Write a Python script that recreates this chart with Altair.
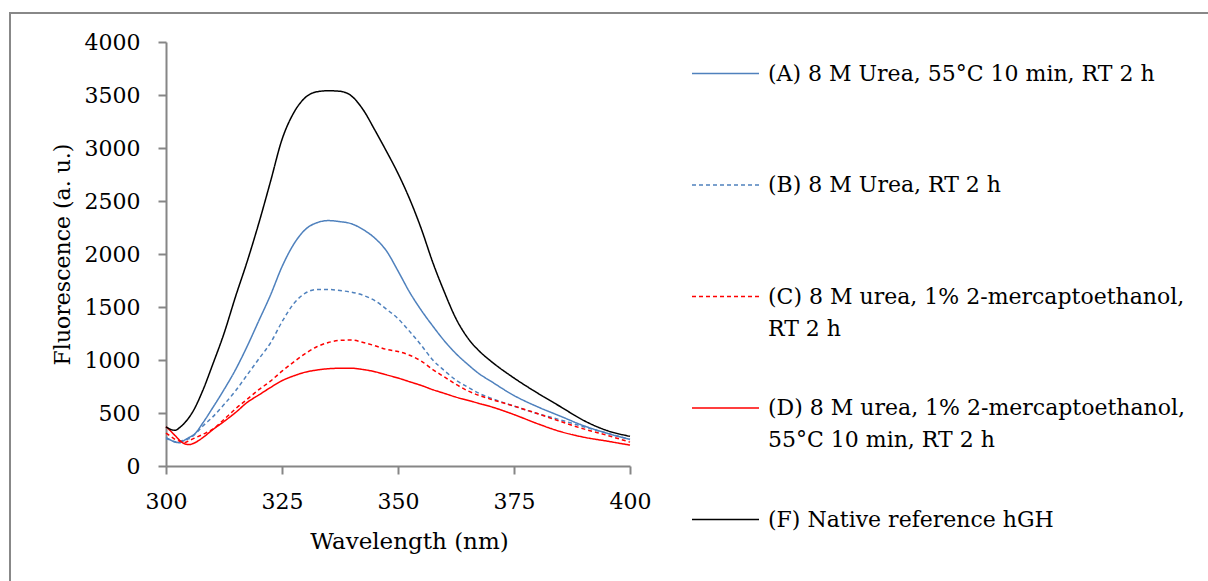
import altair as alt
import pandas as pd

wavelength = [300, 301, 302, 303, 304, 305, 306, 308, 310, 312.5, 315, 317.5, 320, 322.5,
              325, 327.5, 330, 332.5, 335, 337.5, 340, 342.5, 345, 347.5, 350, 352.5, 355,
              357.5, 360, 362.5, 365, 367.5, 370, 375, 380, 385, 390, 395, 400]

series_a = [270, 245, 225, 220, 245, 270, 295, 410, 545, 720, 910, 1130, 1370, 1610,
            1880, 2090, 2230, 2295, 2315, 2305, 2285, 2230, 2150, 2030, 1840, 1640, 1470,
            1320, 1180, 1060, 960, 870, 800, 665, 560, 470, 380, 310, 250]
series_b = [260, 245, 228, 232, 245, 258, 290, 380, 460, 580, 710, 860, 1010, 1160,
            1360, 1530, 1630, 1665, 1665, 1655, 1640, 1610, 1560, 1480, 1390, 1270, 1140,
            1000, 900, 810, 745, 685, 640, 565, 495, 435, 370, 310, 250]
series_c = [310, 280, 250, 232, 222, 240, 260, 300, 345, 440, 540, 630, 720, 800,
            895, 980, 1060, 1125, 1165, 1185, 1188, 1165, 1135, 1100, 1080, 1045, 990,
            910, 840, 770, 710, 665, 630, 565, 495, 420, 350, 290, 225]
series_d = [370, 330, 285, 240, 210, 202, 215, 270, 340, 420, 505, 600, 670, 740,
            805, 850, 885, 905, 918, 922, 922, 910, 890, 860, 830, 795, 760, 720, 685,
            650, 620, 590, 560, 485, 400, 325, 272, 235, 197]
series_f = [370, 345, 337, 365, 405, 460, 530, 720, 950, 1250, 1600, 1930, 2290, 2680,
            3080, 3330, 3475, 3530, 3540, 3535, 3490, 3360, 3170, 2970, 2760, 2520, 2240,
            1920, 1640, 1390, 1210, 1085, 990, 830, 690, 560, 430, 335, 280]

names = [
    "(A) 8 M Urea, 55°C 10 min, RT 2 h|",
    "(B) 8 M Urea, RT 2 h|",
    "(C) 8 M urea, 1% 2-mercaptoethanol,|RT 2 h",
    "(D) 8 M urea, 1% 2-mercaptoethanol,|55°C 10 min, RT 2 h",
    "(F) Native reference hGH|",
]
colors = ["#4F81BD", "#4F81BD", "#FF0000", "#FF0000", "#000000"]
dashes = [[1, 0], [4, 3], [4, 3], [1, 0], [1, 0]]
widths = [1.5, 1.5, 1.75, 1.75, 1.75]

y_ticks = [0, 500, 1000, 1500, 2000, 2500, 3000, 3500, 4000]
x_ticks = [300, 325, 350, 375, 400]

rows = []
for name, vals in zip(names, [series_a, series_b, series_c, series_d, series_f]):
    for w, v in zip(wavelength, vals):
        rows.append({"series": name, "wavelength": w, "value": v})
df = pd.DataFrame(rows)

FONT = "DejaVu Serif"
AX = "#868686"

legend = alt.Legend(
    title=None, orient="none", legendX=525, legendY=-3,
    symbolType="stroke", symbolSize=4489, symbolStrokeWidth=1.6,
    labelFont=FONT, labelFontSize=22, labelColor="#000000", labelLimit=0,
    labelOffset=8, labelBaseline="middle", rowPadding=33.5, padding=0,
    labelExpr="split(datum.label, '|')",
)

lines = alt.Chart(df).mark_line(interpolate="monotone", clip=False).encode(
    x=alt.X("wavelength:Q",
            scale=alt.Scale(domain=[300, 400], nice=False, zero=False),
            axis=alt.Axis(values=x_ticks, title="Wavelength (nm)", grid=False, format="d",
                          labelFlush=False,
                          domainColor=AX, domainWidth=2, tickColor=AX, tickWidth=2,
                          tickSize=8, labelPadding=17, labelFont=FONT, labelFontSize=22,
                          labelColor="#000", titleFont=FONT, titleFontSize=23,
                          titleFontWeight="normal", titleColor="#000", titleX=243,
                          titleY=82, titleBaseline="alphabetic", titleAlign="center")),
    y=alt.Y("value:Q",
            scale=alt.Scale(domain=[0, 4000], nice=False),
            axis=alt.Axis(values=y_ticks, title="Fluorescence (a. u.)", grid=False, format="d",
                          labelFlush=False,
                          domainColor=AX, domainWidth=2, tickColor=AX, tickWidth=2,
                          tickSize=8, labelPadding=18, labelFont=FONT, labelFontSize=22,
                          labelColor="#000", titleFont=FONT, titleFontSize=22,
                          titleFontWeight="normal", titleColor="#000", titleX=-104,
                          titleY=212, titleAngle=-90, titleBaseline="middle",
                          titleAlign="center")),
    color=alt.Color("series:N", scale=alt.Scale(domain=names, range=colors), legend=legend),
    strokeDash=alt.StrokeDash("series:N", scale=alt.Scale(domain=names, range=dashes), legend=legend),
    strokeWidth=alt.StrokeWidth("series:N", scale=alt.Scale(domain=names, range=widths), legend=None),
)

frame_df = pd.DataFrame({"k": [0]})
frame_top = alt.Chart(frame_df).mark_rule(color="#888888", strokeWidth=2, clip=False).encode(
    x=alt.value(-156), x2=alt.value(1042), y=alt.value(-29))
frame_left = alt.Chart(frame_df).mark_rule(color="#888888", strokeWidth=2, clip=False).encode(
    x=alt.value(-156), y=alt.value(-30), y2=alt.value(540))

chart = alt.layer(frame_top, frame_left, lines).properties(
    width=464, height=424,
    autosize=alt.AutoSizeParams(type="none"),
    padding={"left": 166, "top": 42, "right": 578, "bottom": 115},
    background="white",
).configure(
    view=alt.ViewConfig(stroke=None),
    style={"guide-label": {"lineHeight": 32}},
)

chart.save("out.html", embed_options={"renderer": "svg", "actions": False})
